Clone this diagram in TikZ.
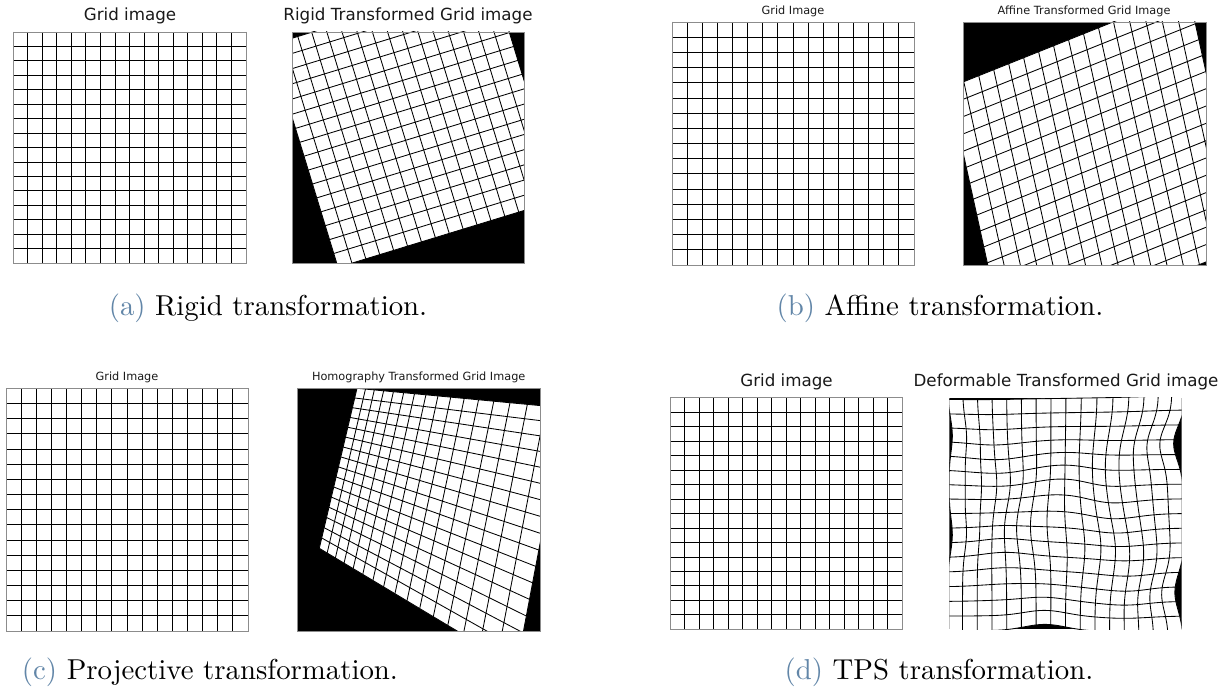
\documentclass[tikz,border=0pt]{standalone}
\usepackage{fontspec}
\usetikzlibrary{calc}
\newfontfamily\dejavu{DejaVu Sans}
\newfontfamily\capfont{lmroman10-regular}[Extension=.otf]
\definecolor{capcol}{RGB}{98,134,168}

% plain 16x16 grid: #1,#2 top-left corner, #3 width, #4 height
\newcommand\drawplaingrid[4]{%
  \foreach \k in {0,...,16} {
    \draw[gridline] ({#1+\k*#3/16},#2) -- ({#1+\k*#3/16},{#2+#4});
    \draw[gridline] (#1,{#2+\k*#4/16}) -- ({#1+#3},{#2+\k*#4/16});
  }
  \draw[frame] (#1,#2) rectangle ++(#3,#4);
}

\begin{document}
\begin{tikzpicture}[x=1pt,y=-1pt,
  gridline/.style={line width=0.85pt, black},
  frame/.style={draw=black!45, line width=0.7pt},
  bigtitle/.style={font=\dejavu\fontsize{16.7}{20}\selectfont, anchor=base, inner sep=0pt, text=black!90},
  smalltitle/.style={font=\dejavu\fontsize{11.3}{14}\selectfont, anchor=base, inner sep=0pt, text=black!90},
  caption/.style={font=\capfont\fontsize{28.8}{34}\selectfont, anchor=base, inner sep=0pt},
  declare function={
    homx(\u,\v)=357+(132.3*\u-36.43*\v)/(1-0.3661*\u-0.03364*\v);
    homy(\u,\v)=388.3+(12.49*\u+154.62*\v)/(1-0.3661*\u-0.03364*\v);
    gs(\a)=exp(-min(\a,20));
    tpsdu(\u,\v)=0.0125*(\u-8)
      +0.3*gs(\u*\u/6+(\v-2.5)*(\v-2.5)/3)
      +0.3*gs(\u*\u/6+(\v-9.5)*(\v-9.5)/3)
      -0.67*gs((\u-16)*(\u-16)/8+(\v-3.2)*(\v-3.2)/2.55)
      -0.6*gs((\u-16)*(\u-16)/8+(\v-13.3)*(\v-13.3)/3.2)
      +0.35*gs((\u-13)*(\u-13)/10+\v*\v/6)
      -0.45*gs(((\u-6)*(\u-6)+(\v-9)*(\v-9))/6)
      +0.4*gs(((\u-9.5)*(\u-9.5)+(\v-10)*(\v-10))/6)
      +0.35*gs(((\u-3)*(\u-3)+(\v-6)*(\v-6))/6)
      -0.35*gs(((\u-12)*(\u-12)+(\v-5)*(\v-5))/6)
      +0.3*gs(((\u-13)*(\u-13)+(\v-11)*(\v-11))/6);
    tpsdv(\u,\v)=0.0125*(\v-8)
      +0.22*gs(\u*\u/153.8+\v*\v/9)
      -0.1*gs(((\u-16)*(\u-16)+\v*\v)/12)
      -0.44*gs((\u-6.6)*(\u-6.6)/3.9+(\v-16)*(\v-16)/8)
      -0.4*gs(((\u-8)*(\u-8)+(\v-6)*(\v-6))/6)
      +0.4*gs(((\u-11)*(\u-11)+(\v-8)*(\v-8))/6)
      -0.35*gs(((\u-4)*(\u-4)+(\v-11)*(\v-11))/6)
      +0.3*gs(((\u-12)*(\u-12)+(\v-13)*(\v-13))/6)
      +0.3*gs(((\u-3)*(\u-3)+(\v-4)*(\v-4))/6);
    tpsx(\u,\v)=949.3+14.525*(\u+tpsdu(\u,\v));
    tpsy(\u,\v)=397.7+14.475*(\v+tpsdv(\u,\v));
  }]
\useasboundingbox (0,0) rectangle (1227,693);

% ---------- (a) rigid ----------
\node[bigtitle] (ta1) at (130,20.5) {Grid image};
\drawplaingrid{13}{32}{233}{231}
\node[bigtitle] (ta2) at (408,20.5) {Rigid Transformed Grid image};
\begin{scope}
  \clip (292,32) rectangle ++(232,231);
  \fill[black] (292,32) rectangle ++(232,231);
  \coordinate (rO) at (270,45);
  \fill[white] (rO) -- ++(222.3,-68) -- ++(68,222.3) -- ++(-222.3,68) -- cycle;
  \foreach \k in {0,...,16} {
    \draw[gridline] ($(rO)+\k*(4.25,13.9)$) -- ++(222.3,-68);
    \draw[gridline] ($(rO)+\k*(13.9,-4.25)$) -- ++(68,222.3);
  }
\end{scope}
\draw[frame] (292,32) rectangle ++(232,231);
\node[caption] (capa) at (268,315) {\textcolor{capcol}{(a)} Rigid transformation.};

% ---------- (b) affine ----------
\node[smalltitle] (tb1) at (793,15) {Grid Image};
\drawplaingrid{672}{22}{242}{243}
\node[smalltitle] (tb2) at (1084,15) {Affine Transformed Grid Image};
\begin{scope}
  \clip (963.3,22) rectangle ++(242.7,243);
  \fill[black] (963.3,22) rectangle ++(242.7,243);
  \coordinate (aO) at (948.8,87.7);
  \fill[white] (aO) -- ++(239.5,-95.8) -- ++(56,254.7) -- ++(-239.5,95.8) -- cycle;
  \foreach \k in {0,...,16} {
    \draw[gridline] ($(aO)+\k*(3.5,15.92)$) -- ++(239.5,-95.8);
    \draw[gridline] ($(aO)+\k*(14.97,-5.99)$) -- ++(56,254.7);
  }
\end{scope}
\draw[frame] (963.3,22) rectangle ++(242.7,243);
\node[caption] (capb) at (940,315) {\textcolor{capcol}{(b)} Affine transformation.};

% ---------- (c) projective ----------
\node[smalltitle] (tc1) at (127,380.7) {Grid Image};
\drawplaingrid{6}{388.3}{242}{242.7}
\node[smalltitle] (tc2) at (418.7,380.7) {Homography Transformed Grid Image};
\begin{scope}
  \clip (297.3,388.3) rectangle ++(243.4,242.7);
  \fill[black] (297.3,388.3) rectangle ++(243.4,242.7);
  \fill[white] ({homx(0,0)},{homy(0,0)}) -- ({homx(1,0)},{homy(1,0)})
    -- ({homx(1,1)},{homy(1,1)}) -- ({homx(0,1)},{homy(0,1)}) -- cycle;
  \foreach \k in {0,...,16} {
    \draw[gridline] ({homx(\k/16,0)},{homy(\k/16,0)}) -- ({homx(\k/16,1)},{homy(\k/16,1)});
    \draw[gridline] ({homx(0,\k/16)},{homy(0,\k/16)}) -- ({homx(1,\k/16)},{homy(1,\k/16)});
  }
\end{scope}
\draw[frame] (297.3,388.3) rectangle ++(243.4,242.7);
\node[caption] (capc) at (210,679.5) {\textcolor{capcol}{(c)} Projective transformation.};

% ---------- (d) thin-plate spline ----------
\node[bigtitle] (td1) at (786.5,386.5) {Grid image};
\drawplaingrid{670}{397.7}{232.3}{231.6}
\node[bigtitle] (td2) at (1066,386.5) {Deformable Transformed Grid image};
\begin{scope}
  \clip (949.3,397.7) rectangle ++(232.4,231.6);
  \fill[black] (949.3,397.7) rectangle ++(232.4,231.6);
  \fill[white] plot[smooth, domain=0:16, samples=33, variable=\t] ({tpsx(\t,0)},{tpsy(\t,0)})
    -- plot[smooth, domain=0:16, samples=33, variable=\t] ({tpsx(16,\t)},{tpsy(16,\t)})
    -- plot[smooth, domain=16:0, samples=33, variable=\t] ({tpsx(\t,16)},{tpsy(\t,16)})
    -- plot[smooth, domain=16:0, samples=33, variable=\t] ({tpsx(0,\t)},{tpsy(0,\t)}) -- cycle;
  \foreach \k in {0,...,16} {
    \draw[gridline] plot[smooth, domain=0:16, samples=33, variable=\t] ({tpsx(\k,\t)},{tpsy(\k,\t)});
    \draw[gridline] plot[smooth, domain=0:16, samples=33, variable=\t] ({tpsx(\t,\k)},{tpsy(\t,\k)});
  }
\end{scope}
\node[caption] (capd) at (939,679.5) {\textcolor{capcol}{(d)} TPS transformation.};
\end{tikzpicture}
\end{document}
